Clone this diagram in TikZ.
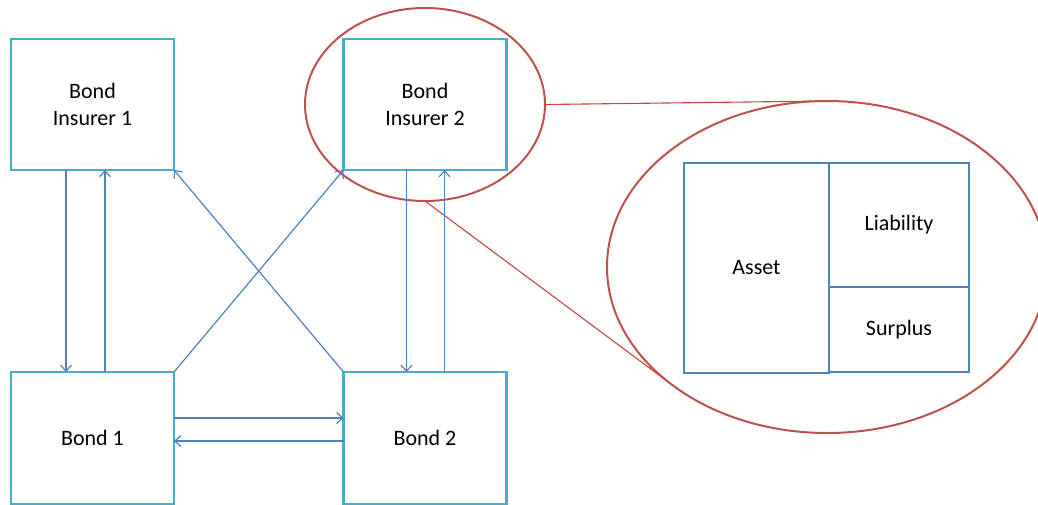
\documentclass[tikz,border=0pt]{standalone}
\usepackage{fontspec}
\setmainfont{Carlito}
\usetikzlibrary{shapes.geometric,arrows.meta,calc}
\definecolor{boxteal}{HTML}{4BACC6}
\definecolor{arrblue}{HTML}{4F81BD}
\definecolor{zoomred}{HTML}{C0504D}
\begin{document}
\begin{tikzpicture}[x=1pt,y=-1pt,
  box/.style={draw=boxteal,line width=2.4pt,fill=white,outer sep=0pt,inner sep=0pt,
    align=center,font=\fontsize{22}{27.5}\selectfont,minimum width=163pt},
  bsbox/.style={draw=arrblue,line width=2.4pt,outer sep=0pt,inner sep=0pt,
    align=center,font=\fontsize{22}{27.5}\selectfont},
  arr/.style={draw=arrblue,line width=1.2pt,-{Straight Barb[length=6pt,width=11pt]}},
  redell/.style={draw=zoomred,line width=2pt,ellipse,inner sep=0pt,outer sep=0pt},
  redline/.style={draw=zoomred!85!red,line width=1.1pt}]
\useasboundingbox (0,0) rectangle (1038,504);
% zoom ellipses
\node[redell,minimum width=240pt,minimum height=193pt] (e1) at (425,104.5) {};
\node[redell,minimum width=440pt,minimum height=332pt] (e2) at (827,267) {};
\draw[redline] (e1.east) -- (e2.north);
\draw[redline] (e1.south) -- (e2.216);
% main boxes
\node[box,minimum height=131pt] (bi1) at (92.5,104.5) {Bond\\Insurer 1};
\node[box,minimum height=131pt] (bi2) at (425,104.5) {Bond\\Insurer 2};
\node[box,minimum height=132pt] (b1) at (92.5,438) {Bond 1};
\node[box,minimum height=132pt] (b2) at (425,438) {Bond 2};
% balance sheet
\node[bsbox,minimum width=145pt,minimum height=210pt] (asset) at (756.5,268) {Asset};
\node[bsbox,minimum width=140pt,minimum height=124pt] (liab) at (899,225) {Liability};
\node[bsbox,minimum width=140pt,minimum height=85pt] (surp) at (899,329.5) {Surplus};
% arrows
\draw[arr] ($(bi1.south west)+(55,0)$) -- ($(b1.north west)+(55,0)$);
\draw[arr] ($(b1.north west)+(94,0)$) -- ($(bi1.south west)+(94,0)$);
\draw[arr] ($(bi2.south west)+(63,0)$) -- ($(b2.north west)+(63,0)$);
\draw[arr] ($(b2.north west)+(101,0)$) -- ($(bi2.south west)+(101,0)$);
\draw[arr] (b2.north west) -- (bi1.south east);
\draw[arr] (b1.north east) -- (bi2.south west);
\draw[arr] ($(b1.north east)+(0,46)$) -- ($(b2.north west)+(0,46)$);
\draw[arr] ($(b2.north west)+(0,69)$) -- ($(b1.north east)+(0,69)$);
\end{tikzpicture}
\end{document}
